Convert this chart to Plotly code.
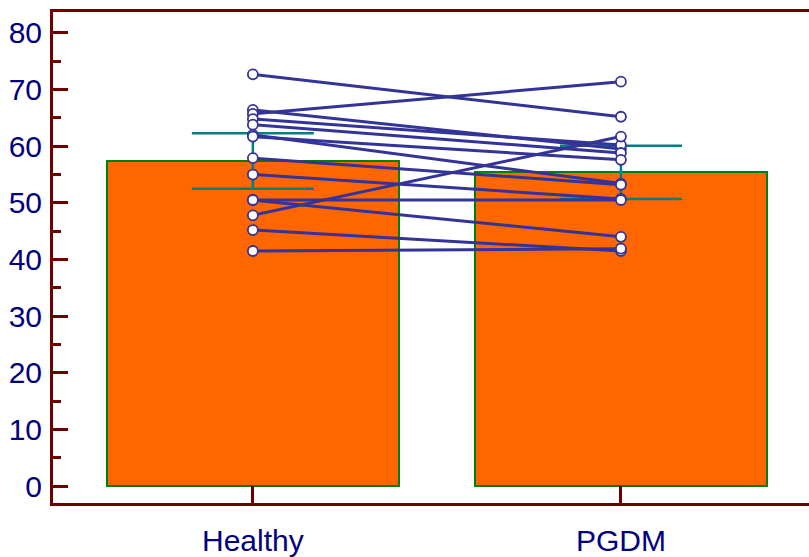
import plotly.graph_objects as go

# Group summary (bar height = mean, whisker = half-width of interval)
groups = ["Healthy", "PGDM"]
group_means = [57.4, 55.4]
group_errors = [4.9, 4.7]

# Paired measurements per subject
healthy_values = [72.7, 66.4, 65.7, 64.8, 63.8, 62.0, 61.7, 57.9, 55.0, 50.5, 50.5, 47.8, 45.2, 41.5]
pgdm_values = [65.2, 59.5, 71.4, 60.2, 58.8, 53.4, 57.6, 53.2, 50.7, 50.5, 44.0, 61.7, 41.5, 41.9]

y_ticks = [0, 10, 20, 30, 40, 50, 60, 70, 80]

AXIS_COLOR = "#700000"
LABEL_COLOR = "#000080"
FONT = "Liberation Sans, Arial, sans-serif"

fig = go.Figure()

fig.add_trace(go.Bar(
    x=groups,
    y=group_means,
    width=0.793,
    marker=dict(color="#FF6600", line=dict(color="#008000", width=2)),
    error_y=dict(type="data", array=group_errors, visible=True,
                 color="#008080", thickness=2.5, width=61),
    showlegend=False,
    hoverinfo="skip",
))

# Connecting lines for each subject
line_x, line_y = [], []
for h, p in zip(healthy_values, pgdm_values):
    line_x += [groups[0], groups[1], None]
    line_y += [h, p, None]

fig.add_trace(go.Scatter(
    x=line_x, y=line_y, mode="lines",
    line=dict(color="#333399", width=3),
    showlegend=False, hoverinfo="skip",
))

fig.add_trace(go.Scatter(
    x=[groups[0]] * len(healthy_values) + [groups[1]] * len(pgdm_values),
    y=healthy_values + pgdm_values,
    mode="markers",
    marker=dict(size=10, color="white", line=dict(color="#333399", width=1.8)),
    showlegend=False, hoverinfo="skip",
))

fig.update_layout(
    width=809, height=557,
    margin=dict(l=53, r=0, t=12, b=50),
    paper_bgcolor="white", plot_bgcolor="white",
    font=dict(family=FONT, color=LABEL_COLOR, size=30),
    bargap=0,
)

fig.update_xaxes(
    type="category",
    range=[-0.543, 1.511],
    showgrid=False, zeroline=False,
    showline=True, linecolor=AXIS_COLOR, linewidth=3, mirror=True,
    ticks="inside", ticklen=17, tickwidth=2.5, tickcolor=AXIS_COLOR,
    ticklabelstandoff=9,
    tickfont=dict(family=FONT, size=30, color=LABEL_COLOR),
)

fig.update_yaxes(
    range=[-3, 83.7],
    showgrid=False, zeroline=False,
    showline=True, linecolor=AXIS_COLOR, linewidth=3,
    tickmode="array", tickvals=y_ticks,
    ticks="inside", ticklen=15, tickwidth=3, tickcolor=AXIS_COLOR,
    minor=dict(tickmode="linear", tick0=0, dtick=5, ticks="inside",
               ticklen=8, tickwidth=2.5, tickcolor=AXIS_COLOR, showgrid=False),
    ticklabelstandoff=2,
    tickfont=dict(family=FONT, size=30, color=LABEL_COLOR),
)

fig.write_html("out.html")
